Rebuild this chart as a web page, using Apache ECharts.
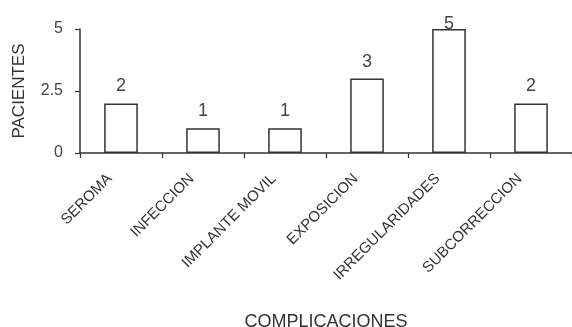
<!DOCTYPE html>
<html>
<head>
<meta charset="utf-8">
<script src="https://cdn.jsdelivr.net/npm/echarts@6/dist/echarts.min.js"></script>
<style>
html,body{margin:0;padding:0;background:#fff;}
#chart{width:572px;height:327px;}
</style>
</head>
<body>
<div id="chart"></div>
<script>
const categories = ["SEROMA", "INFECCION", "IMPLANTE MOVIL", "EXPOSICION", "IRREGULARIDADES", "SUBCORRECCION"];
const pacientes = [2, 1, 1, 3, 5, 2];
const yTicks = [0, 2.5, 5];

const chart = echarts.init(document.getElementById('chart'));
const font = 'Liberation Sans, Arial, sans-serif';
chart.setOption({
  backgroundColor: '#ffffff',
  animation: false,
  grid: { left: 80, right: 0, top: 29, bottom: 174, containLabel: false, outerBoundsMode: 'none' },
  xAxis: {
    type: 'category',
    data: categories,
    name: 'COMPLICACIONES',
    nameLocation: 'middle',
    nameGap: 160,
    nameTextStyle: { fontFamily: font, fontSize: 18, color: '#333' },
    axisLine: { lineStyle: { color: '#333', width: 1.5 } },
    axisTick: { show: true, inside: false, length: 5, lineStyle: { color: '#333', width: 1.2 }, alignWithLabel: false },
    axisLabel: { rotate: 45, margin: 12, padding: [0, 16, 0, 0], fontFamily: font, fontSize: 15, color: '#333', interval: 0 }
  },
  yAxis: {
    type: 'value',
    min: 0,
    max: 5,
    interval: 2.5,
    name: 'PACIENTES',
    nameLocation: 'middle',
    nameGap: 52,
    nameRotate: 90,
    nameTextStyle: { fontFamily: font, fontSize: 17, color: '#333' },
    splitLine: { show: false },
    axisLine: { show: true, lineStyle: { color: '#333', width: 1.5 } },
    axisTick: { show: true, inside: false, length: 5, lineStyle: { color: '#333', width: 1.2 } },
    axisLabel: {
      margin: 17, fontFamily: font, fontSize: 16, color: '#444',
      formatter: v => (yTicks.includes(v) ? String(v) : '')
    }
  },
  series: [{
    type: 'bar',
    data: pacientes.map(v => ({ value: v, label: { distance: v === 5 ? -4 : 8 } })),
    barWidth: '41%',
    itemStyle: { color: '#ffffff', borderColor: '#333', borderWidth: 1.5 },
    label: { show: true, position: 'top', fontFamily: font, fontSize: 18, color: '#444' }
  }]
});
</script>
</body>
</html>
